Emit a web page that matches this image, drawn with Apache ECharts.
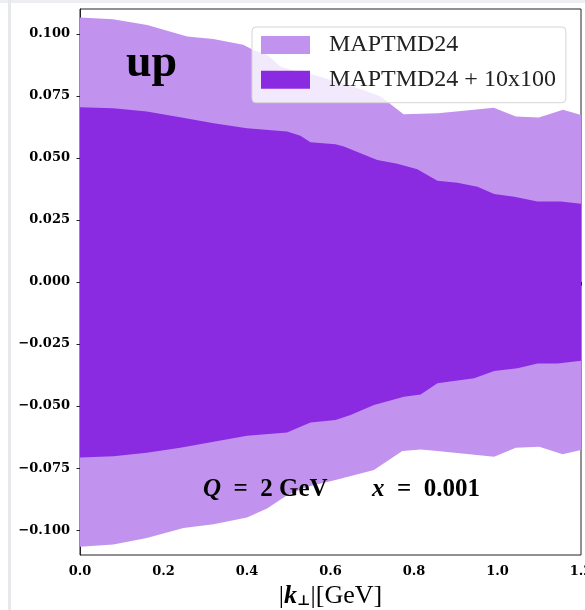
<!DOCTYPE html>
<html>
<head>
<meta charset="utf-8">
<script src="https://cdn.jsdelivr.net/npm/echarts@6/dist/echarts.min.js"></script>
<style>
html,body{margin:0;padding:0;background:#fff;}
#chart{width:585px;height:610px;}
</style>
</head>
<body>
<div id="chart"></div>
<script>
// ---- data ----
var seriesNames = ['MAPTMD24', 'MAPTMD24 + 10x100'];

var outerUpperX = [0, 0.079, 0.161, 0.240, 0.257, 0.319, 0.391, 0.415, 0.449, 0.480, 0.528, 0.559, 0.617, 0.679, 0.720, 0.775, 0.857, 0.919, 0.991, 1.044, 1.099, 1.157, 1.200];
var outerUpperY = [0.1066, 0.1059, 0.1036, 0.0997, 0.0989, 0.0979, 0.0956, 0.0935, 0.0915, 0.0868, 0.0843, 0.0835, 0.0806, 0.0774, 0.0747, 0.0676, 0.0680, 0.0690, 0.0702, 0.0667, 0.0663, 0.0694, 0.0673];

var outerLowerX = [0, 0.080, 0.160, 0.248, 0.320, 0.400, 0.448, 0.496, 0.544, 0.612, 0.704, 0.772, 0.816, 0.856, 0.992, 1.044, 1.100, 1.156, 1.200];
var outerLowerY = [-0.1067, -0.1058, -0.1031, -0.0991, -0.0976, -0.0949, -0.0913, -0.0859, -0.0825, -0.0798, -0.0758, -0.0681, -0.0675, -0.0681, -0.0704, -0.0668, -0.0664, -0.0694, -0.0677];

var innerUpperX = [0, 0.080, 0.160, 0.240, 0.320, 0.400, 0.496, 0.528, 0.552, 0.612, 0.632, 0.672, 0.712, 0.760, 0.808, 0.856, 0.904, 0.952, 0.992, 1.040, 1.096, 1.152, 1.200];
var innerUpperY = [0.0704, 0.0700, 0.0687, 0.0664, 0.0640, 0.0620, 0.0606, 0.0589, 0.0563, 0.0555, 0.0546, 0.0519, 0.0492, 0.0476, 0.0454, 0.0408, 0.0400, 0.0384, 0.0355, 0.0344, 0.0324, 0.0324, 0.0315];

var innerLowerX = [0, 0.080, 0.160, 0.240, 0.320, 0.400, 0.496, 0.528, 0.552, 0.612, 0.648, 0.704, 0.776, 0.816, 0.856, 0.944, 0.992, 1.048, 1.096, 1.144, 1.200];
var innerLowerY = [-0.0707, -0.0702, -0.0688, -0.0668, -0.0644, -0.0620, -0.0606, -0.0583, -0.0566, -0.0556, -0.0536, -0.0496, -0.0462, -0.0453, -0.0408, -0.0388, -0.0359, -0.0348, -0.0328, -0.0328, -0.0317];

var xTicks = [0, 0.2, 0.4, 0.6, 0.8, 1.0, 1.2];
var xTickLabels = ['0.0', '0.2', '0.4', '0.6', '0.8', '1.0', '1.2'];
var yTicks = [-0.1, -0.075, -0.05, -0.025, 0, 0.025, 0.05, 0.075, 0.1];
var yTickLabels = ['\u22120.100', '\u22120.075', '\u22120.050', '\u22120.025', '0.000', '0.025', '0.050', '0.075', '0.100'];

// ---- chart ----
var LIGHT = '#c293ee';
var DARK = '#8a2be2';

function bandRenderer(ux, uy, lx, ly, color) {
  return function (params, api) {
    var pts = [];
    for (var i = 0; i < ux.length; i++) pts.push(api.coord([ux[i], uy[i]]));
    for (var j = lx.length - 1; j >= 0; j--) pts.push(api.coord([lx[j], ly[j]]));
    return { type: 'polygon', shape: { points: pts }, style: { fill: color } };
  };
}

function findLabel(ticks, labels, v) {
  for (var k = 0; k < ticks.length; k++) if (Math.abs(ticks[k] - v) < 1e-9) return labels[k];
  return '';
}

var tickFont = { fontFamily: 'DejaVu Serif', fontWeight: 'bold', fontSize: 13, color: '#000' };

var chart = echarts.init(document.getElementById('chart'), null, { renderer: 'canvas' });
chart.setOption({
  animation: false,
  backgroundColor: '#fff',
  grid: { left: 80, top: 9, right: 4, bottom: 55, outerBoundsMode: 'none', containLabel: false,
          show: true, borderColor: '#222', borderWidth: 1, backgroundColor: 'transparent' },
  legend: {
    orient: 'vertical', left: 252, top: 27,
    itemWidth: 49, itemHeight: 18, itemGap: 10.7,
    padding: [6, 10, 11, 9],
    backgroundColor: 'rgba(255,255,255,0.8)', borderColor: '#d4d4d4', borderWidth: 1, borderRadius: 4,
    icon: 'rect',
    textStyle: { fontFamily: 'Liberation Serif', fontSize: 24, lineHeight: 24, color: '#222', padding: [0, 0, 0, 14] },
    data: seriesNames
  },
  xAxis: {
    type: 'value', min: 0, max: 1.2,
    axisLine: { show: true, lineStyle: { color: '#222', width: 1 } },
    axisTick: { show: true, length: 3.5, lineStyle: { color: '#222' }, customValues: xTicks },
    axisLabel: Object.assign({ customValues: xTicks, margin: 10, hideOverlap: false,
      formatter: function (v) { return findLabel(xTicks, xTickLabels, v); } }, tickFont),
    splitLine: { show: false },
    name: '|{k|k}{s|\u22a5}|[GeV]',
    nameLocation: 'middle', nameGap: 19,
    nameTextStyle: {
      fontFamily: 'Liberation Serif', fontSize: 26, color: '#000',
      rich: {
        k: { fontFamily: 'Liberation Serif', fontSize: 26, fontStyle: 'italic', fontWeight: 'bold', color: '#000' },
        s: { fontFamily: 'DejaVu Serif', fontSize: 14, fontWeight: 'bold', color: '#000', padding: [10, 0, 0, 0] }
      }
    }
  },
  yAxis: {
    type: 'value', min: -0.11, max: 0.11,
    axisLine: { show: true, lineStyle: { color: '#222', width: 1 } },
    axisTick: { show: true, length: 3.5, lineStyle: { color: '#222' }, customValues: yTicks },
    axisLabel: Object.assign({ customValues: yTicks, margin: 10,
      formatter: function (v) { return findLabel(yTicks, yTickLabels, v); } }, tickFont),
    splitLine: { show: false }
  },
  series: [
    { name: seriesNames[0], type: 'custom', itemStyle: { color: LIGHT }, data: [[0, 0]], z: 2,
      renderItem: bandRenderer(outerUpperX, outerUpperY, outerLowerX, outerLowerY, LIGHT) },
    { name: seriesNames[1], type: 'custom', itemStyle: { color: DARK }, data: [[0, 0]], z: 3,
      renderItem: bandRenderer(innerUpperX, innerUpperY, innerLowerX, innerLowerY, DARK) }
  ],
  graphic: [
    { type: 'rect', left: 0, top: 0, shape: { width: 585, height: 3 }, style: { fill: '#eceef2' }, silent: true, z: 100 },
    { type: 'rect', left: 8, top: 0, shape: { width: 3, height: 610 }, style: { fill: '#e6e8ec' }, silent: true, z: 100 },
    { type: 'text', x: 126, y: 64, z: 50,
      style: { text: 'up', fontFamily: 'Liberation Serif', fontWeight: 'bold', fontSize: 46, fill: '#000', verticalAlign: 'middle' } },
    { type: 'text', x: 203, y: 490, z: 50,
      style: { text: '{i|Q}  =  2 GeV', fontFamily: 'Liberation Serif', fontWeight: 'bold', fontSize: 25, fill: '#000', verticalAlign: 'middle',
        rich: { i: { fontFamily: 'Liberation Serif', fontStyle: 'italic', fontWeight: 'bold', fontSize: 25, fill: '#000' } } } },
    { type: 'text', x: 372, y: 490, z: 50,
      style: { text: '{i|x}  =  0.001', fontFamily: 'Liberation Serif', fontWeight: 'bold', fontSize: 25, fill: '#000', verticalAlign: 'middle',
        rich: { i: { fontFamily: 'Liberation Serif', fontStyle: 'italic', fontWeight: 'bold', fontSize: 25, fill: '#000' } } } }
  ]
});
</script>
</body>
</html>
